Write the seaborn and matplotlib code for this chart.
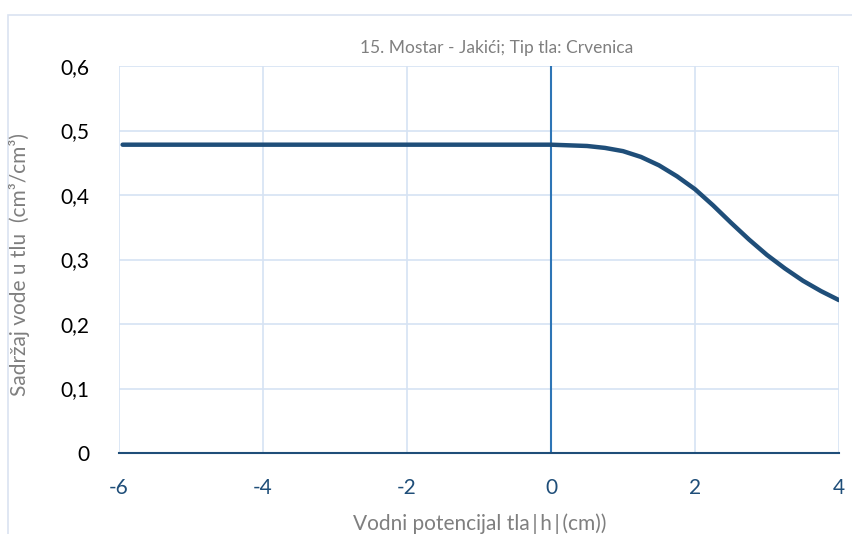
import matplotlib
matplotlib.use("Agg")

import matplotlib.pyplot as plt
from matplotlib.patches import Rectangle
import seaborn as sns
import pandas as pd

# water retention curve
H_VALUES = [-5.95, -4.0, -2.0, -1.0, 0.0, 0.5, 0.75, 1.0, 1.25, 1.5, 1.75,
            2.0, 2.25, 2.5, 2.75, 3.0, 3.25, 3.5, 3.75, 4.0]
THETA = [0.478, 0.478, 0.478, 0.478, 0.478, 0.476, 0.473, 0.468, 0.459, 0.446,
         0.429, 0.409, 0.384, 0.357, 0.331, 0.307, 0.286, 0.267, 0.251, 0.237]

X_TICKS = [-6, -4, -2, 0, 2, 4]
Y_TICKS = [0, 0.1, 0.2, 0.3, 0.4, 0.5, 0.6]
Y_TICK_LABELS = ["0", "0,1", "0,2", "0,3", "0,4", "0,5", "0,6"]

TITLE = "15. Mostar - Jakići; Tip tla: Crvenica"
X_LABEL = "Vodni potencijal tla\u2009|\u2009h\u2009|\u2009(cm))"
Y_LABEL = "Sadržaj vode u tlu  (cm³/cm³)"

LINE_COLOR = "#1F4E79"
GRID_COLOR = "#D6E3F3"
GRAY = "#7F7F7F"


def main() -> None:
    sns.set_style("white")
    plt.rcParams["font.family"] = ["Lato", "DejaVu Sans"]
    plt.rcParams["axes.unicode_minus"] = False

    df = pd.DataFrame({"h": H_VALUES, "theta": THETA})

    fig = plt.figure(figsize=(8.53, 5.34), dpi=100)
    fig.patches.append(Rectangle((8 / 853, -0.1), 1.0, 1.1 - 15 / 534,
                                 transform=fig.transFigure, fill=False,
                                 edgecolor="#DAE3F1", linewidth=1.2))
    ax = fig.add_axes([119 / 853, 81 / 534, 720 / 853, 387 / 534])

    ax.set_xlim(-6, 4)
    ax.set_ylim(0, 0.6)
    ax.set_xticks(X_TICKS)
    ax.set_yticks(Y_TICKS)
    ax.set_yticklabels(Y_TICK_LABELS)
    ax.grid(True, color=GRID_COLOR, linewidth=1.2)
    ax.set_axisbelow(True)
    for side in ["top", "right", "left"]:
        ax.spines[side].set_visible(False)
    ax.spines["bottom"].set_color(LINE_COLOR)
    ax.spines["bottom"].set_linewidth(1.5)
    ax.axvline(0, color="#2E75B6", linewidth=1.5, zorder=2)

    sns.lineplot(data=df, x="h", y="theta", ax=ax, color=LINE_COLOR,
                 linewidth=3.2, solid_capstyle="round", zorder=3)

    ax.tick_params(axis="x", colors=LINE_COLOR, labelsize=15, length=0, pad=18)
    ax.tick_params(axis="y", colors="black", labelsize=15, length=0, pad=21)
    ax.set_xlabel("")
    ax.set_ylabel("")

    fig.text(497 / 853, 1 - 48 / 534, TITLE, ha="center", va="center",
             color=GRAY, fontsize=12.5)
    fig.text(480 / 853, 1 - 524 / 534, X_LABEL, ha="center", va="center",
             color=GRAY, fontsize=15)
    fig.text(20 / 853, 1 - 265 / 534, Y_LABEL, ha="center", va="center",
             rotation=90, color=GRAY, fontsize=15)

    fig.savefig("out.png", dpi=100)
    plt.close("all")


if __name__ == "__main__":
    main()
